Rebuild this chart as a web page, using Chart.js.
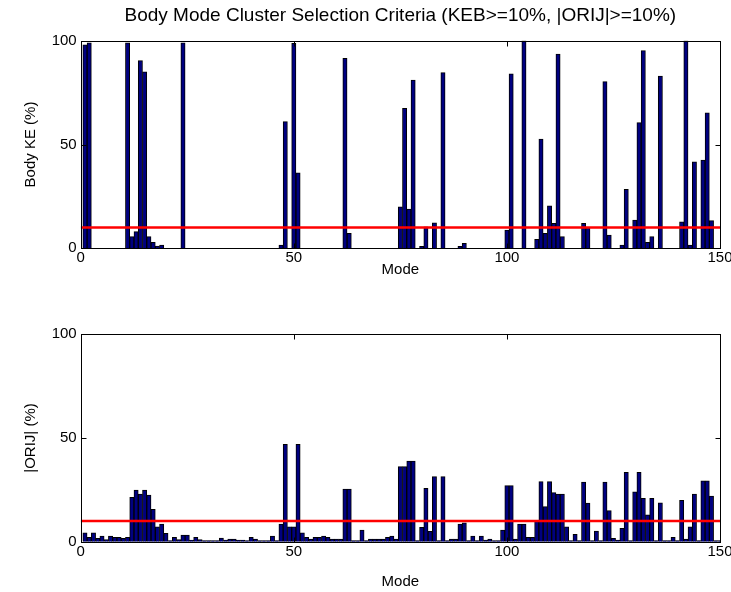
<!DOCTYPE html>
<html>
<head>
<meta charset="utf-8">
<script src="https://cdn.jsdelivr.net/npm/chart.js@4.4.0/dist/chart.umd.min.js"></script>
<style>
    body { margin: 0; background: #fff; }
    #wrap { position: relative; width: 731px; height: 592px; }
    canvas { position: absolute; left: 0; }
    #keChart { top: 0; }
    #orijChart { top: 290px; }
</style>
</head>
<body>
<div id="wrap">
    <canvas id="keChart" width="731" height="290"></canvas>
    <canvas id="orijChart" width="731" height="302"></canvas>
</div>
<script>
// Data
const modes = Array.from({ length: 150 }, (_, i) => i + 1);

// Body KE (%) per mode
const bodyKE = [
    98, 99, 0, 0, 0, 0, 0, 0, 0, 0,
    99, 5.6, 8, 90.4, 85, 5.6, 2.9, 1.1, 1.5, 0,
    0, 0, 0, 99, 0, 0, 0, 0, 0, 0,
    0, 0, 0, 0, 0, 0, 0, 0, 0, 0,
    0, 0, 0, 0, 0, 0, 1.6, 61, 0, 98.7,
    36.4, 0, 0, 0, 0, 0, 0, 0, 0, 0,
    0, 91.5, 7.2, 0, 0, 0, 0, 0, 0, 0,
    0, 0, 0, 0, 20, 67.4, 18.9, 81, 0, 1,
    10.4, 0, 12.3, 0, 84.6, 0, 0, 0, 1, 2.4,
    0, 0, 0, 0, 0, 0, 0, 0, 0, 8.8,
    84, 0, 0, 100, 0, 0, 4.3, 52.6, 7.2, 20.5,
    12, 93.6, 5.6, 0, 0, 0, 0, 12, 10, 0,
    0, 0, 80.3, 6.4, 0, 0, 1.5, 28.4, 0, 13.6,
    60.5, 95.2, 2.9, 5.6, 0, 83, 0, 0, 0, 0,
    12.8, 100, 1.5, 41.7, 0, 42.5, 65.3, 13.3, 0, 0
];

// |ORIJ| (%) per mode
const orij = [
    4.3, 2.1, 4.3, 1.6, 2.7, 1, 2.7, 2.1, 2.1, 1.6,
    2.1, 21.4, 24.9, 23, 24.9, 22.5, 15.6, 7.2, 8.5, 4,
    0.5, 2.1, 1, 3.2, 3.2, 0.8, 2.1, 1, 0.5, 0.5,
    0.5, 0.5, 1.8, 0.8, 1.3, 1.3, 0.8, 0.8, 0.5, 2.1,
    1.3, 0.5, 0.5, 0.5, 2.7, 0.5, 8.5, 47, 7.2, 7.2,
    47, 4.3, 2.1, 1.3, 2.1, 2.1, 2.7, 2.1, 1.3, 1.3,
    1.3, 25.4, 25.4, 0.5, 0.5, 5.6, 0.5, 1.3, 1.3, 1.3,
    1.3, 2.1, 2.7, 1.3, 36.2, 36.2, 38.9, 38.9, 0.5, 6.9,
    25.7, 5, 31.4, 0.5, 31.4, 0.5, 1.3, 1.3, 8.5, 9.1,
    0.5, 2.7, 0.5, 2.7, 0.8, 1.3, 0.5, 0.5, 5.6, 27,
    27, 1.3, 8.5, 8.5, 2.1, 2.1, 10.1, 29, 16.9, 29,
    23.7, 23, 23, 7.2, 0.5, 3.5, 0.5, 28.7, 18.6, 0.5,
    5.1, 0.5, 28.7, 15, 1.6, 0.8, 6.4, 33.4, 0.5, 24.1,
    33.4, 20.9, 12.9, 20.9, 0.5, 18.8, 0.5, 0.5, 2.1, 0.5,
    20, 1.3, 7.2, 23, 0.5, 29.4, 29.4, 22, 0.5, 0.5
];

const xTicks = [0, 50, 100, 150];
const yTicks = [0, 50, 100];
const threshold = 10;

const family = "'Liberation Sans', Arial, sans-serif";
Chart.defaults.font.family = family;
Chart.defaults.color = '#000';

// matlab style box with inward ticks
const axesBox = {
    id: 'axesBox',
    afterDatasetsDraw(chart) {
        const { ctx, chartArea: a, scales: { x, y } } = chart;
        const l = Math.round(a.left) + 0.5, r = Math.round(a.right) + 0.5;
        const t = Math.round(a.top) + 0.5, b = Math.round(a.bottom) + 0.5;
        ctx.save();
        ctx.strokeStyle = '#000';
        ctx.lineWidth = 1;
        ctx.strokeRect(l, t, r - l, b - t);
        ctx.beginPath();
        xTicks.forEach(v => {
            const px = Math.round(x.getPixelForValue(v)) + 0.5;
            ctx.moveTo(px, b); ctx.lineTo(px, b - 5);
            ctx.moveTo(px, t); ctx.lineTo(px, t + 5);
        });
        yTicks.forEach(v => {
            const py = Math.round(y.getPixelForValue(v)) + 0.5;
            ctx.moveTo(l, py); ctx.lineTo(l + 5, py);
            ctx.moveTo(r, py); ctx.lineTo(r - 5, py);
        });
        ctx.stroke();
        ctx.restore();
    }
};

function makeChart(id, values, yLabel, o) {
    return new Chart(document.getElementById(id), {
        type: 'bar',
        data: {
            datasets: [{
                type: 'line',
                data: [{ x: 0, y: threshold }, { x: 150, y: threshold }],
                borderColor: '#ff0000',
                borderWidth: 2.5,
                pointRadius: 0,
                order: 0
            }, {
                data: modes.map((m, i) => ({ x: m, y: values[i] })),
                backgroundColor: 'rgb(0, 0, 128)',
                borderColor: '#000',
                borderWidth: 1,
                barPercentage: 1,
                categoryPercentage: 1,
                order: 1
            }]
        },
        options: {
            responsive: false,
            animation: false,
            events: [],
            layout: { padding: o.padding },
            plugins: {
                legend: { display: false },
                tooltip: { enabled: false },
                title: o.title
            },
            scales: {
                x: {
                    type: 'linear',
                    min: 0,
                    max: 150,
                    offset: false,
                    afterBuildTicks: s => { s.ticks = xTicks.map(v => ({ value: v })); },
                    afterFit: s => { s.height = o.xHeight; s.paddingLeft = 0; s.paddingRight = 0; },
                    grid: { display: false, drawTicks: false },
                    border: { display: false },
                    ticks: { font: { size: 15 }, padding: 1, maxRotation: 0, autoSkip: false },
                    title: { display: true, text: 'Mode', font: { size: 15 }, padding: { top: 0, bottom: o.modePad } }
                },
                y: {
                    min: 0,
                    max: 100,
                    afterBuildTicks: s => { s.ticks = yTicks.map(v => ({ value: v })); },
                    afterFit: s => { s.width = 80.7; s.paddingTop = 0; s.paddingBottom = 0; },
                    grid: { display: false, drawTicks: false },
                    border: { display: false },
                    ticks: { font: { size: 15 }, padding: 4 },
                    title: { display: true, text: yLabel, font: { size: 15 }, padding: { top: 22, bottom: 0 } }
                }
            }
        },
        plugins: [axesBox]
    });
}

// Body KE
const keChart = makeChart('keChart', bodyKE, 'Body KE (%)', {
    padding: { left: 0, right: 11, top: 0, bottom: 0 },
    xHeight: 41.7,
    modePad: 11,
    title: {
        display: true,
        fullSize: false,
        text: 'Body Mode Cluster Selection Criteria (KEB>=10%, |ORIJ|>=10%)',
        font: { size: 19, weight: 'normal' },
        padding: { top: 4, bottom: 13.9 }
    }
});

// |ORIJ|
const orijChart = makeChart('orijChart', orij, '|ORIJ| (%)', {
    padding: { left: 0, right: 11, top: 44.3, bottom: 0 },
    xHeight: 50.3,
    modePad: 1,
    title: { display: false }
});
</script>
</body>
</html>
